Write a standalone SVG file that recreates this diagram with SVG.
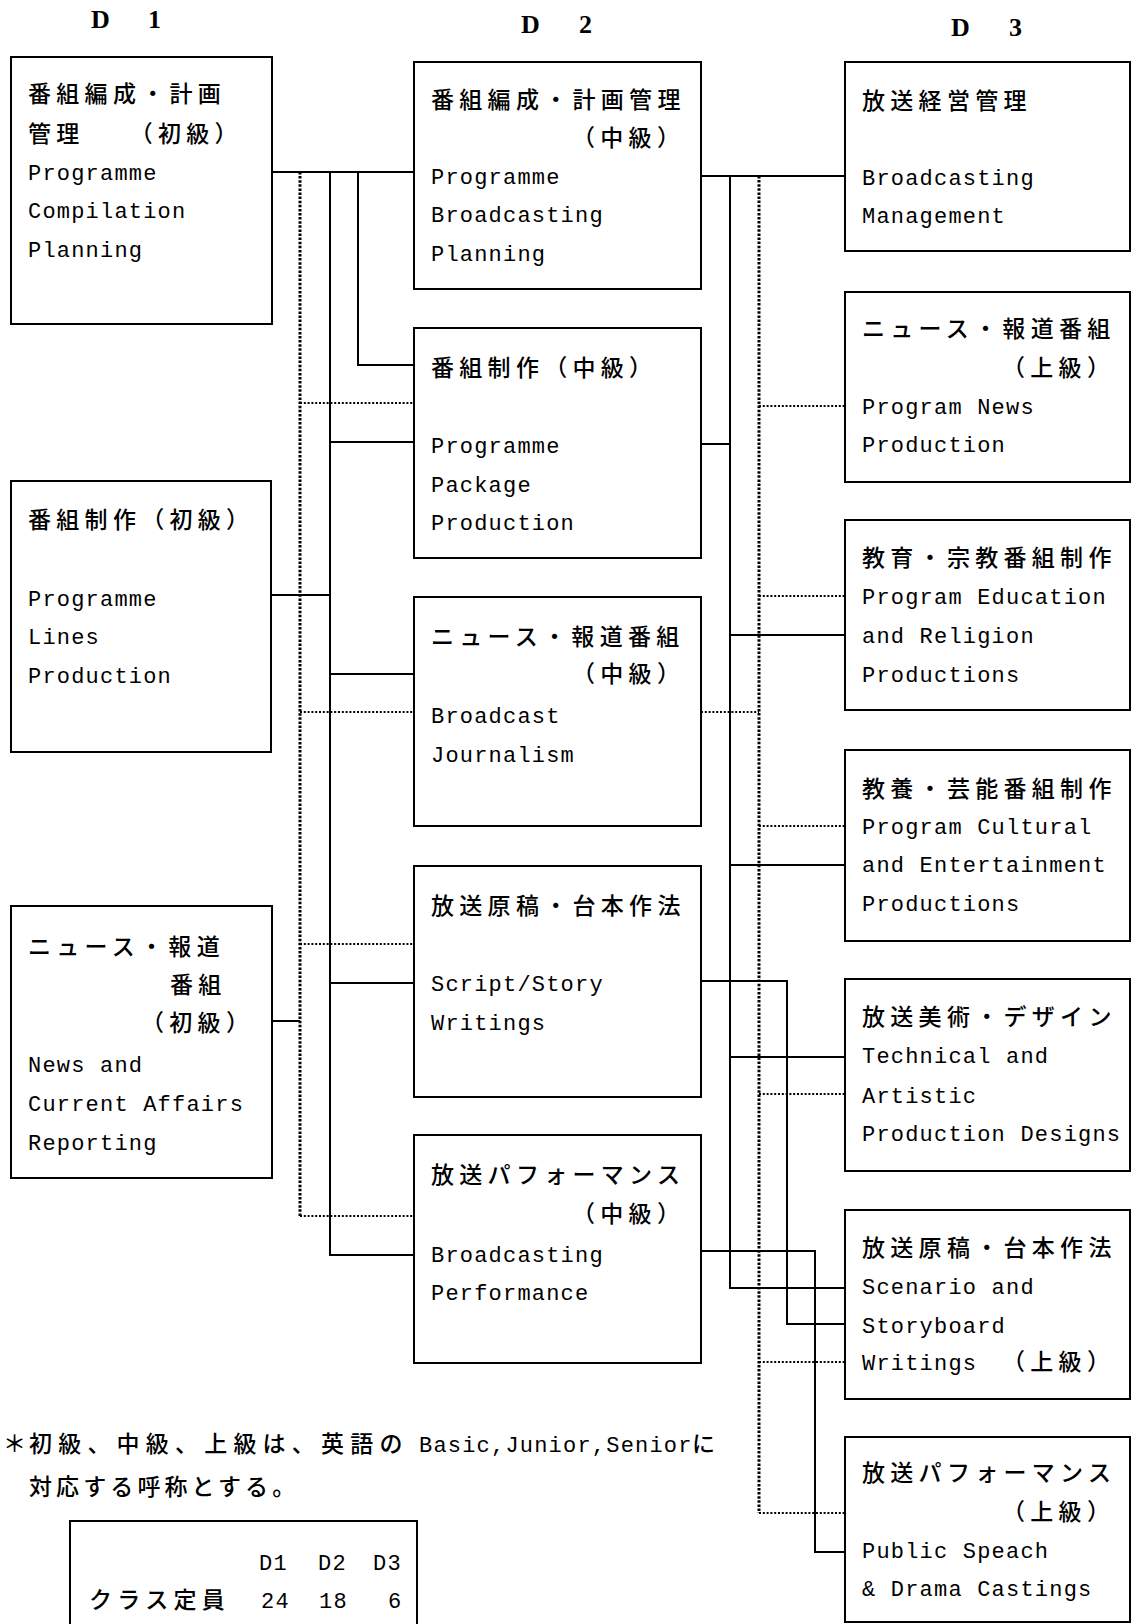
<svg xmlns="http://www.w3.org/2000/svg" width="1133" height="1624" viewBox="0 0 1133 1624">
<style>
.box{fill:#fff;stroke:#000;stroke-width:2}
.ln{fill:none;stroke:#000;stroke-width:2}
.dv{fill:none;stroke:#000;stroke-width:3;stroke-dasharray:2.5 1.6}
.dh{fill:none;stroke:#000;stroke-width:2;stroke-dasharray:2 1.8}
.j{font-family:"Noto Sans CJK JP","Noto Sans CJK SC",sans-serif;font-size:23px;font-weight:500;letter-spacing:5.3px;fill:#000}
.e{font-family:"Liberation Mono","DejaVu Sans Mono",monospace;font-size:22px;letter-spacing:1.2px;fill:#000}
.h{font-family:"Liberation Serif",serif;font-size:26px;font-weight:bold;fill:#000}
</style>
<rect width="1133" height="1624" fill="#fff"/>

<g id="headers">
<text class="h" x="91" y="28">D</text><text class="h" x="148" y="28">1</text>
<text class="h" x="521" y="33">D</text><text class="h" x="579" y="33">2</text>
<text class="h" x="951" y="36">D</text><text class="h" x="1009" y="36">3</text>
</g>

<g id="connectors">
<path class="ln" d="M272 172H414"/>
<path class="ln" d="M330 172V1255H414"/>
<path class="ln" d="M358 172V365H414"/>
<path class="dv" d="M300 172V1216"/>
<path class="dh" d="M300 403H414"/>
<path class="ln" d="M330 442H414"/>
<path class="ln" d="M271 595H330"/>
<path class="ln" d="M330 674H414"/>
<path class="dh" d="M300 712H414"/>
<path class="dh" d="M300 944H414"/>
<path class="ln" d="M330 983H414"/>
<path class="ln" d="M272 1021H300"/>
<path class="dh" d="M300 1216H414"/>
<path class="ln" d="M701 176H845"/>
<path class="ln" d="M730 176V1288H845"/>
<path class="dv" d="M759 176V1513"/>
<path class="dh" d="M759 406H845"/>
<path class="ln" d="M701 444H730"/>
<path class="dh" d="M759 596H845"/>
<path class="ln" d="M730 635H845"/>
<path class="dh" d="M701 712H759"/>
<path class="dh" d="M759 826H845"/>
<path class="ln" d="M730 865H845"/>
<path class="ln" d="M701 981H787V1324H845"/>
<path class="ln" d="M730 1057H845"/>
<path class="dh" d="M759 1094H845"/>
<path class="ln" d="M701 1251H815V1552H845"/>
<path class="dh" d="M759 1362H845"/>
<path class="dh" d="M759 1513H845"/>
</g>

<g id="d1-planning">
<rect class="box" x="11" y="57" width="261" height="267"/>
<text class="j" x="28" y="102">番組編成・計画</text>
<text class="j" x="28" y="142">管理　　（初級）</text>
<text class="e" x="28" y="180">Programme</text>
<text class="e" x="28" y="218">Compilation</text>
<text class="e" x="28" y="257">Planning</text>
</g>

<g id="d1-production">
<rect class="box" x="11" y="481" width="260" height="271"/>
<text class="j" x="28" y="528">番組制作（初級）</text>
<text class="e" x="28" y="606">Programme</text>
<text class="e" x="28" y="644">Lines</text>
<text class="e" x="28" y="683">Production</text>
</g>

<g id="d1-news">
<rect class="box" x="11" y="906" width="261" height="272"/>
<text class="j" x="28" y="955">ニュース・報道</text>
<text class="j" x="170" y="993">番組</text>
<text class="j" x="141" y="1031">（初級）</text>
<text class="e" x="28" y="1072">News and</text>
<text class="e" x="28" y="1111">Current Affairs</text>
<text class="e" x="28" y="1150">Reporting</text>
</g>

<g id="d2-planning">
<rect class="box" x="414" y="62" width="287" height="227"/>
<text class="j" x="431" y="108">番組編成・計画管理</text>
<text class="j" x="572" y="146">（中級）</text>
<text class="e" x="431" y="184">Programme</text>
<text class="e" x="431" y="222">Broadcasting</text>
<text class="e" x="431" y="261">Planning</text>
</g>

<g id="d2-production">
<rect class="box" x="414" y="328" width="287" height="230"/>
<text class="j" x="431" y="376">番組制作（中級）</text>
<text class="e" x="431" y="453">Programme</text>
<text class="e" x="431" y="492">Package</text>
<text class="e" x="431" y="530">Production</text>
</g>

<g id="d2-news">
<rect class="box" x="414" y="597" width="287" height="229"/>
<text class="j" x="431" y="645">ニュース・報道番組</text>
<text class="j" x="572" y="682">（中級）</text>
<text class="e" x="431" y="723">Broadcast</text>
<text class="e" x="431" y="762">Journalism</text>
</g>

<g id="d2-script">
<rect class="box" x="414" y="866" width="287" height="231"/>
<text class="j" x="431" y="914">放送原稿・台本作法</text>
<text class="e" x="431" y="991">Script/Story</text>
<text class="e" x="431" y="1030">Writings</text>
</g>

<g id="d2-performance">
<rect class="box" x="414" y="1135" width="287" height="228"/>
<text class="j" x="431" y="1183">放送パフォーマンス</text>
<text class="j" x="572" y="1222">（中級）</text>
<text class="e" x="431" y="1262">Broadcasting</text>
<text class="e" x="431" y="1300">Performance</text>
</g>

<g id="d3-management">
<rect class="box" x="845" y="62" width="285" height="189"/>
<text class="j" x="862" y="109">放送経営管理</text>
<text class="e" x="862" y="185">Broadcasting</text>
<text class="e" x="862" y="223">Management</text>
</g>

<g id="d3-news">
<rect class="box" x="845" y="292" width="285" height="190"/>
<text class="j" x="862" y="337">ニュース・報道番組</text>
<text class="j" x="1002" y="376">（上級）</text>
<text class="e" x="862" y="414">Program News</text>
<text class="e" x="862" y="452">Production</text>
</g>

<g id="d3-education">
<rect class="box" x="845" y="520" width="285" height="190"/>
<text class="j" x="862" y="566">教育・宗教番組制作</text>
<text class="e" x="862" y="604">Program Education</text>
<text class="e" x="862" y="643">and Religion</text>
<text class="e" x="862" y="682">Productions</text>
</g>

<g id="d3-culture">
<rect class="box" x="845" y="750" width="285" height="191"/>
<text class="j" x="862" y="797">教養・芸能番組制作</text>
<text class="e" x="862" y="834">Program Cultural</text>
<text class="e" x="862" y="872">and Entertainment</text>
<text class="e" x="862" y="911">Productions</text>
</g>

<g id="d3-design">
<rect class="box" x="845" y="979" width="285" height="192"/>
<text class="j" x="862" y="1025">放送美術・デザイン</text>
<text class="e" x="862" y="1063">Technical and</text>
<text class="e" x="862" y="1103">Artistic</text>
<text class="e" x="862" y="1141">Production Designs</text>
</g>

<g id="d3-scenario">
<rect class="box" x="845" y="1210" width="285" height="189"/>
<text class="j" x="862" y="1256">放送原稿・台本作法</text>
<text class="e" x="862" y="1294">Scenario and</text>
<text class="e" x="862" y="1333">Storyboard</text>
<text class="e" x="862" y="1370">Writings</text>
<text class="j" x="1002" y="1370">（上級）</text>
</g>

<g id="d3-performance">
<rect class="box" x="845" y="1437" width="285" height="185"/>
<text class="j" x="862" y="1481">放送パフォーマンス</text>
<text class="j" x="1002" y="1520">（上級）</text>
<text class="e" x="862" y="1558">Public Speach</text>
<text class="e" x="862" y="1596">&amp; Drama Castings</text>
</g>

<g id="note">
<text class="j" x="3" y="1452">＊</text>
<text class="j" x="29" y="1452" style="letter-spacing:6.2px">初級、中級、上級は、英語の</text>
<text class="e" x="419" y="1452">Basic,Junior,Senior</text>
<text class="j" x="692" y="1452">に</text>
<text class="j" x="29" y="1495" style="letter-spacing:4.1px">対応する呼称とする。</text>
</g>

<g id="capacity-table">
<path class="ln" d="M70 1626V1521H417V1626"/>
<text class="e" x="259" y="1570">D1</text>
<text class="e" x="318" y="1570">D2</text>
<text class="e" x="373" y="1570">D3</text>
<text class="j" x="89" y="1608">クラス定員</text>
<text class="e" x="261" y="1608">24</text>
<text class="e" x="319" y="1608">18</text>
<text class="e" x="388" y="1608">6</text>
</g>
</svg>
